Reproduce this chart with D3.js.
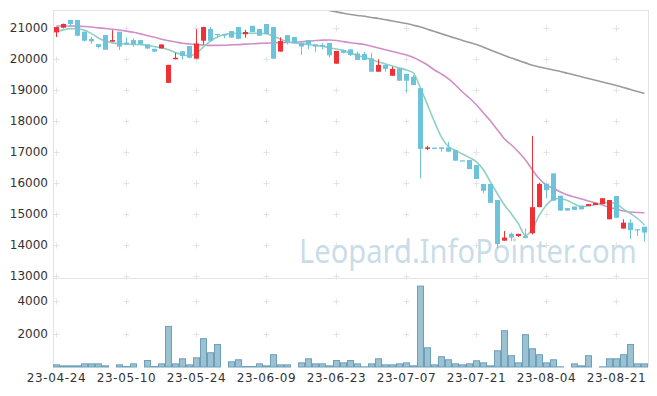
<!DOCTYPE html>
<html><head><meta charset="utf-8">
<script src="https://cdn.jsdelivr.net/npm/d3@7"></script>
<style>html,body{margin:0;padding:0;background:#fff;}svg{display:block;}</style>
</head><body>
<div id="chart"></div>
<script>
const dates = ["23-04-24","23-04-25","23-04-26","23-04-27","23-04-28","23-05-02","23-05-03","23-05-04","23-05-08","23-05-09",
"23-05-10","23-05-11","23-05-12","23-05-15","23-05-16","23-05-17","23-05-18","23-05-19","23-05-22","23-05-23",
"23-05-24","23-05-25","23-05-26","23-05-30","23-05-31","23-06-01","23-06-02","23-06-05","23-06-07","23-06-08",
"23-06-09","23-06-12","23-06-13","23-06-14","23-06-15","23-06-16","23-06-19","23-06-20","23-06-21","23-06-22",
"23-06-23","23-06-26","23-06-27","23-06-28","23-06-29","23-06-30","23-07-03","23-07-04","23-07-05","23-07-06",
"23-07-07","23-07-10","23-07-11","23-07-12","23-07-13","23-07-14","23-07-17","23-07-18","23-07-19","23-07-20",
"23-07-21","23-07-24","23-07-25","23-07-26","23-07-27","23-07-28","23-07-31","23-08-01","23-08-02","23-08-03",
"23-08-04","23-08-07","23-08-08","23-08-09","23-08-10","23-08-11","23-08-14","23-08-16","23-08-17","23-08-18",
"23-08-21","23-08-22","23-08-23","23-08-24","23-08-25"];

const openV = [20860,21010,21260,21260,20880,20650,20480,20770,20560,20880,
20530,20610,20610,20470,20330,20340,19230,19990,20250,20420,
20010,20590,20970,20810,20800,20900,21030,20800,21070,20970,
21130,21030,20240,20770,20710,20520,20610,20470,20450,20520,
19850,20290,20310,20180,20160,20020,19590,19810,19460,19700,
19520,19430,19060,17100,17140,17150,17150,17060,16730,16740,
16580,15970,15970,15450,14140,14360,14290,14290,14380,15220,
15970,16310,15590,15190,15240,15270,15260,15290,15320,14830,
15580,14530,14720,14510,14590];
const highV = [21040,21140,21260,21260,20880,20720,20480,20770,20930,20880,
20700,20670,20610,20470,20330,20470,19810,20200,20250,20420,
20960,21040,21030,20810,20800,20900,21030,20940,21070,20970,
21130,21030,20700,20770,20710,20520,20610,20470,20510,20520,
20260,20300,20310,20240,20230,20200,19990,19810,19750,19700,
19520,19480,19060,17200,17140,17150,17330,17060,16730,16740,
16580,15970,15970,15450,14450,14400,14360,14530,17520,16010,
15970,16310,15590,15190,15240,15270,15320,15360,15510,15450,
15580,14830,14830,14510,14590];
const lowV = [20710,20990,21030,20730,20560,20490,20340,20300,20560,20290,
20450,20400,20460,20320,20230,20340,19230,19990,19980,20020,
20010,20470,20590,20690,20670,20690,20640,20690,20870,20750,
20800,20010,20240,20470,20500,20130,20310,20220,20310,20050,
19850,20180,20100,19970,19970,19590,19590,19590,19460,19300,
18920,19160,16150,17060,17100,17010,17010,16720,16710,16450,
16130,15670,15360,13900,14140,14130,14260,14210,14340,15220,
15510,15430,15110,15110,15130,15150,15260,15290,15320,14830,
14880,14530,14190,14290,14110];
const closeV = [21030,21130,21130,20750,20590,20570,20390,20300,20610,20400,
20480,20470,20480,20340,20240,20470,19810,20040,20100,20040,
20500,21030,20590,20780,20760,20690,20650,20870,20870,20750,
20810,20010,20580,20560,20510,20400,20470,20400,20400,20120,
20260,20200,20130,19970,19970,19590,19810,19680,19680,19300,
19300,19160,17100,17150,17100,17100,17010,16720,16710,16450,
16130,15750,15360,14030,14240,14240,14360,14230,15220,15970,
15770,15430,15110,15110,15130,15150,15320,15360,15510,15450,
14880,14720,14480,14490,14400];
const volumes = [160,100,100,100,220,220,220,100,0,160,
60,220,0,420,60,220,2480,220,525,160,
585,1740,890,1390,0,345,465,60,60,220,
100,770,160,160,0,280,525,220,220,100,
420,280,420,220,40,220,525,160,160,220,
280,100,4910,1190,160,650,465,220,160,220,
405,280,100,1010,2220,710,280,1980,1130,770,
280,465,40,0,220,100,710,0,40,525,
525,770,1390,220,220];
const ma5 = [20880,20940,20980,20975,20930,20820,20680,20580,20520,20490,
20480,20470,20465,20440,20400,20360,20300,20210,20140,20110,
20190,20390,20580,20710,20790,20820,20830,20830,20830,20830,
20820,20730,20640,20560,20515,20495,20465,20440,20410,20360,
20320,20270,20190,20115,20050,19985,19905,19840,19775,19710,
19645,19540,19065,18520,17970,17480,17170,17050,16935,16820,
16680,16420,16030,15645,15290,15000,14680,14310,14520,14970,
15290,15480,15500,15435,15320,15235,15260,15305,15355,15365,
15320,15160,15015,14855,14645];
const ma20 = [21065,21065,21065,21060,21048,21030,21005,20985,20960,20935,
20900,20860,20810,20750,20700,20640,20590,20550,20510,20485,
20465,20450,20440,20440,20445,20455,20465,20480,20490,20505,
20512,20520,20527,20533,20540,20555,20575,20595,20610,20613,
20595,20560,20526,20497,20468,20410,20355,20300,20242,20185,
20129,20048,19935,19806,19645,19516,19355,19161,18935,18742,
18516,18258,18000,17710,17420,17226,17000,16742,16420,16129,
15935,15829,15710,15613,15548,15484,15419,15355,15290,15210,
15161,15097,15065,15048,15042];
const ma60 = [null,null,null,null,null,null,null,null,null,null,
null,null,null,null,null,null,null,null,null,null,
null,null,null,null,null,null,null,null,null,null,
null,null,null,null,null,null,null,21700,21630,21565,
21520,21475,21435,21405,21377,21340,21306,21265,21226,21185,
21145,21090,21032,20960,20887,20815,20742,20670,20597,20530,
20468,20380,20290,20200,20113,20030,19952,19875,19797,19745,
19694,19645,19597,19540,19484,19430,19371,19315,19258,19200,
19145,19080,19016,18950,18887];
const priceTicks = [13000,14000,15000,16000,17000,18000,19000,20000,21000];
const volumeTicks = [2000,4000];
const xTickIdx = [0,10,20,30,40,50,60,70,80];
const watermark = "Leopard.InfoPointer.com";

const W = 657, H = 396;
const L = 53, R = 648, T = 10, PB = 278, VB = 367;
const svg = d3.select("#chart").append("svg").attr("width", W).attr("height", H);

const idx = d3.range(dates.length);
const x = d3.scaleBand().domain(idx).range([L, R]).padding(0);
const bw = x.bandwidth();
const cx = i => x(i) + bw / 2;
const y = d3.scaleLinear().domain([13000, 21000]).range([276, 28]);
const yv = d3.scaleLinear().domain([0, 4000]).range([VB, 300.7]);

const grid = "#e3e3e3";
svg.append("line").attr("x1", L).attr("x2", R).attr("y1", T + 0.5).attr("y2", T + 0.5).attr("stroke", grid);
svg.append("line").attr("x1", L).attr("x2", R).attr("y1", PB + 0.5).attr("y2", PB + 0.5).attr("stroke", grid);
svg.append("line").attr("x1", L + 0.5).attr("x2", L + 0.5).attr("y1", T).attr("y2", VB).attr("stroke", grid);
svg.append("line").attr("x1", R + 0.5).attr("x2", R + 0.5).attr("y1", T).attr("y2", VB).attr("stroke", grid);

const crossYs = priceTicks.map(v => Math.round(y(v))).concat(volumeTicks.map(v => Math.round(yv(v))));
const crossG = svg.append("g").attr("stroke", "#e4e4e4").attr("stroke-width", 1);
xTickIdx.forEach(i => {
  const xx = Math.floor(cx(i)) + 0.5;
  crossYs.forEach(yy => {
    crossG.append("line").attr("x1", xx - 3).attr("x2", xx + 3).attr("y1", yy + 0.5).attr("y2", yy + 0.5);
    crossG.append("line").attr("x1", xx).attr("x2", xx).attr("y1", yy - 2.5).attr("y2", yy + 3.5);
  });
});

// watermark: natural width measured, then scaled horizontally to fit
const wm = svg.append("text").attr("x", 0).attr("y", 0)
  .attr("font-family", "Noto Sans, sans-serif").attr("font-size", 33)
  .attr("fill", "#c6dbe7").attr("fill-opacity", 0.95)
  .text(watermark);
const natural = wm.node().getComputedTextLength();
const sx = 338 / natural;
wm.attr("transform", `translate(299,263) scale(${sx},1)`);

const yAx = d3.axisLeft(y).tickValues(priceTicks).tickSize(0).tickPadding(5).tickFormat(d3.format("d"));
const gy = svg.append("g").attr("transform", `translate(${L},0)`).call(yAx);
const yvAx = d3.axisLeft(yv).tickValues(volumeTicks).tickSize(0).tickPadding(5).tickFormat(d3.format("d"));
const gyv = svg.append("g").attr("transform", `translate(${L},0)`).call(yvAx);
const xAx = d3.axisBottom(x).tickValues(xTickIdx).tickSize(0).tickPadding(6).tickFormat(i => dates[i]);
const gx = svg.append("g").attr("transform", `translate(0,${VB})`).call(xAx);
[gy, gyv, gx].forEach(g => {
  g.select(".domain").remove();
  g.selectAll("text").attr("font-family", "DejaVu Sans, sans-serif").attr("font-size", 12).attr("fill", "#333");
});
gx.selectAll("text").attr("letter-spacing", "0.6px");

svg.append("clipPath").attr("id", "pclip").append("rect").attr("x", L).attr("y", T + 1).attr("width", R - L).attr("height", PB - T - 1);

svg.append("g").selectAll("rect").data(idx.filter(i => volumes[i] > 0)).join("rect")
  .attr("x", i => x(i) + 0.5).attr("width", bw - 1)
  .attr("y", i => yv(volumes[i]) + 0.5).attr("height", i => Math.max(0, VB - yv(volumes[i]) - 0.5))
  .attr("fill", "#9bc2d3").attr("stroke", "#6d9fba").attr("stroke-width", 1);

const lineGen = arr => d3.line().defined(i => arr[i] != null).x(i => cx(i)).y(i => y(arr[i])).curve(d3.curveMonotoneX)(idx);
const lg = svg.append("g").attr("clip-path", "url(#pclip)").attr("fill", "none").attr("stroke-width", 1.6);
lg.append("path").attr("d", lineGen(ma60)).attr("stroke", "#9b9b9b");
lg.append("path").attr("d", lineGen(ma20)).attr("stroke", "#cf8fc9");
lg.append("path").attr("d", lineGen(ma5)).attr("stroke", "#8fd0c2");

const up = "#ef3035", dn = "#6cc3da";
const cg = svg.append("g").attr("clip-path", "url(#pclip)");
const col = i => closeV[i] >= openV[i] ? up : dn;
cg.selectAll("line.w").data(idx).join("line").attr("class", "w")
  .attr("x1", i => Math.floor(cx(i)) + 0.5).attr("x2", i => Math.floor(cx(i)) + 0.5)
  .attr("y1", i => y(highV[i])).attr("y2", i => y(lowV[i]))
  .attr("stroke", col).attr("stroke-width", 1);
cg.selectAll("rect.b").data(idx).join("rect").attr("class", "b")
  .attr("x", i => Math.floor(cx(i)) - 2).attr("width", 5)
  .attr("y", i => Math.min(y(openV[i]), y(closeV[i])))
  .attr("height", i => Math.max(1.2, Math.abs(y(openV[i]) - y(closeV[i]))))
  .attr("fill", col);
</script>
</body></html>
